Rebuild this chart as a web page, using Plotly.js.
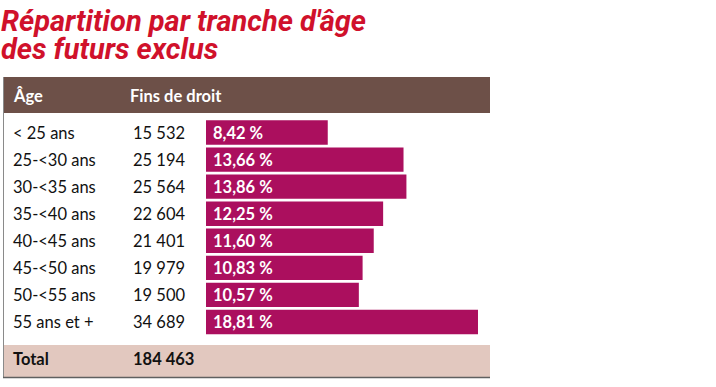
<!DOCTYPE html>
<html><head><meta charset="utf-8">
<script src="https://cdn.plot.ly/plotly-3.0.1.min.js"></script>
<style>html,body{margin:0;padding:0;background:#fff}#chart{width:716px;height:387px}</style>
</head><body><div id="chart"></div>
<script>
const titleLines = ["Répartition par tranche d'âge", "des futurs exclus"];
const headers = ["Âge", "Fins de droit"];
const ages = ["< 25 ans","25-<30 ans","30-<35 ans","35-<40 ans","40-<45 ans","45-<50 ans","50-<55 ans","55 ans et +"];
const counts = ["15 532","25 194","25 564","22 604","21 401","19 979","19 500","34 689"];
const pct = [8.42,13.66,13.86,12.25,11.60,10.83,10.57,18.81];
const totalLabel = "Total";
const totalValue = "184 463";

const W = 716, H = 387;
const px = p => p / W;
const py = p => 1 - p / H;
const tableFont = "Lato, 'Noto Sans', sans-serif";
const fs = 16.5;
const barColor = "#ab0f5e";

const trace = {
  type: "bar", orientation: "h",
  x: pct, y: ages,
  marker: {color: barColor, line: {width: 0}},
  width: 0.9,
  text: pct.map(v => "\u00a0" + v.toFixed(2).replace(".", ",") + " %"),
  textposition: "inside", insidetextanchor: "start",
  textfont: {family: tableFont, size: 16.5, color: "#ffffff", weight: 700},
  constraintext: "none",
  hoverinfo: "skip", cliponaxis: false
};

const annotations = [];
ages.forEach((a, i) => {
  annotations.push({xref: "paper", yref: "y", x: px(11), y: a, text: a, showarrow: false,
    xanchor: "left", yanchor: "middle", font: {family: tableFont, size: fs, color: "#111"}});
  annotations.push({xref: "paper", yref: "y", x: px(131), y: a, text: counts[i], showarrow: false,
    xanchor: "left", yanchor: "middle", font: {family: tableFont, size: fs, color: "#111"}});
});
annotations.push({xref: "paper", yref: "paper", x: px(11), y: py(96), text: headers[0], showarrow: false,
  xanchor: "left", yanchor: "middle", font: {family: tableFont, size: fs, color: "#fff", weight: 700}});
annotations.push({xref: "paper", yref: "paper", x: px(128), y: py(96), text: headers[1], showarrow: false,
  xanchor: "left", yanchor: "middle", font: {family: tableFont, size: fs, color: "#fff", weight: 700}});
annotations.push({xref: "paper", yref: "paper", x: px(11), y: py(359), text: totalLabel, showarrow: false,
  xanchor: "left", yanchor: "middle", font: {family: tableFont, size: fs, color: "#111", weight: 700}});
annotations.push({xref: "paper", yref: "paper", x: px(131), y: py(359), text: totalValue, showarrow: false,
  xanchor: "left", yanchor: "middle", font: {family: tableFont, size: fs, color: "#111", weight: 700}});

const titleFont = {family: "Roboto, 'DejaVu Sans Condensed', sans-serif", size: 29, color: "#d0112b", weight: 700, style: "italic"};
annotations.push({xref: "paper", yref: "paper", x: 0, y: py(21), text: titleLines[0], showarrow: false,
  xanchor: "left", yanchor: "middle", borderpad: 0, font: titleFont});
annotations.push({xref: "paper", yref: "paper", x: 0, y: py(48.5), text: titleLines[1], showarrow: false,
  xanchor: "left", yanchor: "middle", borderpad: 0, font: titleFont});

const shapes = [
  {type: "rect", xref: "paper", yref: "paper", x0: px(3), x1: px(490), y0: py(113), y1: py(77),
   fillcolor: "#6d5048", line: {width: 0}, layer: "below"},
  {type: "rect", xref: "paper", yref: "paper", x0: px(3), x1: px(490), y0: py(377), y1: py(345),
   fillcolor: "#e2c8bf", line: {width: 0}, layer: "below"},
  {type: "line", xref: "paper", yref: "paper", x0: px(3.5), x1: px(3.5), y0: py(377), y1: py(77),
   line: {color: "#8a8a8a", width: 1}},
  {type: "line", xref: "paper", yref: "paper", x0: px(3), x1: px(490), y0: py(377.5), y1: py(377.5),
   line: {color: "#606060", width: 1.5}}
];

// scale: 0% at px 206, 14.46 px per %
const scale = 14.46;
const xr = [-206 / scale, (W - 206) / scale];
// rows: first center at 132.5 px, step 27.07 px
const y0c = 132.5, step = 27.07;
const yr = [(H - y0c) / step, (0 - y0c) / step];

const layout = {
  width: W, height: H,
  margin: {l: 0, r: 0, t: 0, b: 0, pad: 0},
  paper_bgcolor: "#fff", plot_bgcolor: "rgba(0,0,0,0)",
  showlegend: false,
  xaxis: {range: xr, visible: false, fixedrange: true},
  yaxis: {range: yr, type: "category", categoryorder: "array", categoryarray: ages, visible: false, fixedrange: true},
  annotations: annotations, shapes: shapes
};

Plotly.newPlot("chart", [trace], layout, {displayModeBar: false, staticPlot: true});
</script></body></html>
